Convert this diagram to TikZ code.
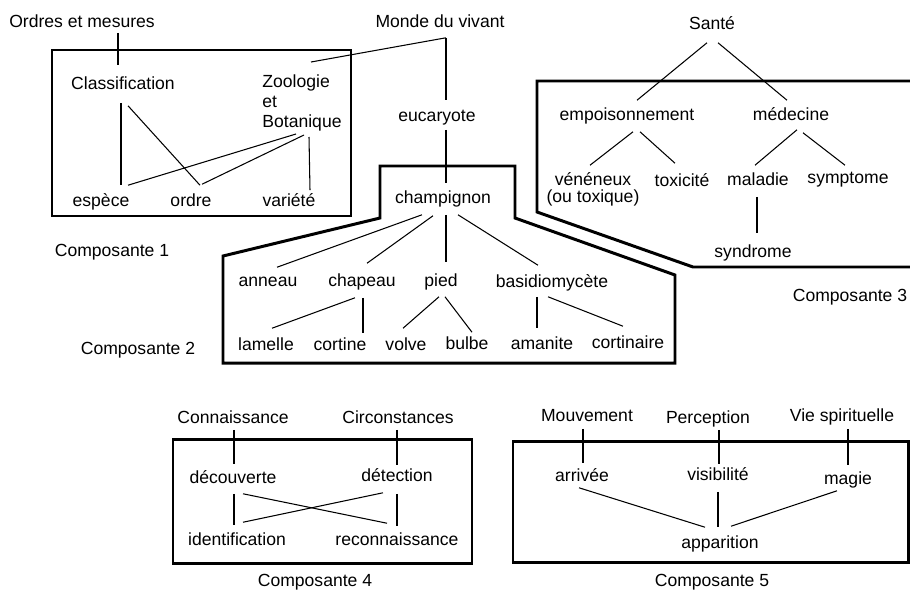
\documentclass[tikz,border=0pt]{standalone}
\usepackage{fontspec}
\setmainfont{Liberation Sans}
\usetikzlibrary{calc}

\tikzset{
  lbl/.style={font=\fontsize{10}{11.5}\selectfont, inner xsep=2pt, inner ysep=2pt, text height=7pt, text depth=2pt},
  multi/.style={inner sep=2pt},
  frame/.style={line width=1.7pt, line join=miter},
  link/.style={line width=0.6pt},
}

\begin{document}
\begin{tikzpicture}[x=0.02cm, y=-0.02cm]
    \useasboundingbox (0,0) rectangle (910,589);

    % top words
    \node(ordres) [lbl] at (82,23) {Ordres et mesures};
    \node(monde) [lbl] at (440,23) {Monde du vivant};
    \node(sante) [lbl] at (712,25) {Santé};

    % composante 1
    \draw[frame] (52,50) rectangle (351,216);
    \node(clas) [lbl] at (123,85) {Classification};
    \node(zoo) [multi, align=left, font=\fontsize{10}{11.35}\selectfont] at (302,103) {Zoologie\\et\\Botanique};
    \node(esp) [lbl] at (101,202) {espèce};
    \node(ordre) [lbl] at (191,202) {ordre};
    \node(vari) [lbl] at (289,202) {variété};
    \node(comp1) [lbl] at (112,252) {Composante 1};

    \draw[link] ($(ordres.south)+(36,-2)$) -- ($(clas.north)+(-5,-8)$);
    \draw[link] ($(clas.south)+(-2,6)$) -- ($(esp.north)+(20,-5)$);
    \draw[link] ($(clas.south)+(5,9)$) -- ($(ordre.north)+(9,-5)$);
    \draw[link] ($(zoo.south)+(-6,-1)$) -- ($(esp.north)+(27,-5)$);
    \draw[link] ($(zoo.south)+(2,0)$) -- ($(ordre.north)+(11,-6)$);
    \draw[link] ($(zoo.south)+(7,2)$) -- ($(vari.north)+(21,0)$);
    \draw[link] ($(monde.south)+(6,3)$) -- ($(zoo.north)+(9,-9)$);

    % composante 2
    \draw[frame] (223,256) -- (380,218) -- (380,166) -- (515,166) -- (515,218)
        -- (675,275) -- (675,363) -- (223,363) -- cycle;
    \node(euca) [lbl] at (437,117) {eucaryote};
    \node(cham) [lbl] at (443,199) {champignon};
    \node(ann) [lbl] at (268,282) {anneau};
    \node(chap) [lbl] at (362,282) {chapeau};
    \node(pied) [lbl] at (441,282) {pied};
    \node(basi) [lbl] at (552,283) {basidiomycète};
    \node(lam) [lbl] at (266,346) {lamelle};
    \node(cort) [lbl] at (340,346) {cortine};
    \node(volv) [lbl] at (406,346) {volve};
    \node(bulb) [lbl] at (467,345) {bulbe};
    \node(aman) [lbl] at (542,345) {amanite};
    \node(corti) [lbl] at (628,344) {cortinaire};
    \node(comp2) [lbl] at (138,350) {Composante 2};

    \draw[link] ($(monde.south)+(6,3)$) -- ($(euca.north)+(9,-5)$);
    \draw[link] ($(euca.south)+(9,1)$) -- ($(cham.north)+(3,-4)$);
    \draw[link] ($(cham.south)+(-21,4)$) -- ($(ann.north)+(9,-3)$);
    \draw[link] ($(cham.south)+(-10,5)$) -- ($(chap.north)+(5,-7)$);
    \draw[link] ($(cham.south)+(3,4)$) -- ($(pied.north)+(5,-8)$);
    \draw[link] ($(cham.south)+(15,4)$) -- ($(basi.north)+(-14,-6)$);
    \draw[link] ($(chap.south)+(-7,4)$) -- ($(lam.north)+(6,-6)$);
    \draw[link] ($(chap.south)+(1,4)$) -- ($(cort.north)+(23,-1)$);
    \draw[link] ($(pied.south)+(-2,3)$) -- ($(volv.north)+(-3,-6)$);
    \draw[link] ($(pied.south)+(4,3)$) -- ($(bulb.north)+(5,-1)$);
    \draw[link] ($(basi.south)+(-15,2)$) -- ($(aman.north)+(-5,-5)$);
    \draw[link] ($(basi.south)+(-4,2)$) -- ($(corti.north)+(-5,-6)$);

    % composante 3
    \draw[frame] (910,81) -- (537,81) -- (537,212) -- (693,267) -- (910,267);
    \node(emp) [lbl] at (627,116) {empoisonnement};
    \node(med) [lbl] at (791,116) {médecine};
    \node(ven) [multi, align=center, font=\fontsize{10}{9.8}\selectfont] at (593,189) {vénéneux\\(ou toxique)};
    \node(tox) [lbl] at (682,182) {toxicité};
    \node(mal) [lbl] at (758,181) {maladie};
    \node(sym) [lbl] at (848,179) {symptome};
    \node(syn) [lbl] at (753,253) {syndrome};
    \node(comp3) [lbl] at (850,297) {Composante 3};

    \draw[link] ($(sante.south)+(-5,6)$) -- ($(emp.north)+(10,-4)$);
    \draw[link] ($(sante.south)+(6,6)$) -- ($(med.north)+(-4,-4)$);
    \draw[link] ($(emp.south)+(6,4)$) -- ($(ven.north)+(-3,-3)$);
    \draw[link] ($(emp.south)+(13,4)$) -- ($(tox.north)+(-7,-7)$);
    \draw[link] ($(med.south)+(6,2)$) -- ($(mal.north)+(-3,-4)$);
    \draw[link] ($(med.south)+(12,5)$) -- ($(sym.north)+(-3,-2)$);
    \draw[link] ($(mal.south)+(-1,4)$) -- ($(syn.north)+(4,-8)$);

    % composante 4
    \draw[frame] (173,439) rectangle (472,563);
    \node(conn) [lbl] at (233,419) {Connaissance};
    \node(circ) [lbl] at (398,419) {Circonstances};
    \node(deco) [lbl] at (233,479) {découverte};
    \node(dete) [lbl] at (397,477) {détection};
    \node(iden) [lbl] at (237,541) {identification};
    \node(reco) [lbl] at (397,541) {reconnaissance};
    \node(comp4) [lbl] at (315,582) {Composante 4};

    \draw[link] ($(conn.south)+(1,-1)$) -- ($(deco.north)+(1,-3)$);
    \draw[link] ($(circ.south)+(-1,-1)$) -- ($(dete.north)+(0,0)$);
    \draw[link] ($(deco.south)+(1,3)$) -- ($(iden.north)+(-3,-4)$);
    \draw[link] ($(dete.south)+(0,5)$) -- ($(reco.north)+(0,-3)$);
    \draw[link] ($(deco.south)+(10,3)$) -- ($(reco.north)+(-10,-6)$);
    \draw[link] ($(dete.south)+(-14,4)$) -- ($(iden.north)+(6,-7)$);

    % composante 5
    \draw[frame] (513,441) rectangle (908,562);
    \node(mouv) [lbl] at (587,417) {Mouvement};
    \node(perc) [lbl] at (708,419) {Perception};
    \node(vie) [lbl] at (842,417) {Vie spirituelle};
    \node(arri) [lbl] at (582,477) {arrivée};
    \node(visi) [lbl] at (718,476) {visibilité};
    \node(magi) [lbl] at (848,480) {magie};
    \node(appa) [lbl] at (720,544) {apparition};
    \node(comp5) [lbl] at (712,582) {Composante 5};

    \draw[link] ($(mouv.south)+(-4,0)$) -- ($(arri.north)+(1,-2)$);
    \draw[link] ($(perc.south)+(11,-1)$) -- ($(visi.north)+(1,0)$);
    \draw[link] ($(vie.south)+(6,0)$) -- ($(magi.north)+(0,-3)$);
    \draw[link] ($(arri.south)+(-3,-1)$) -- ($(appa.north)+(-15,-5)$);
    \draw[link] ($(visi.south)+(0,4)$) -- ($(appa.north)+(-2,-5)$);
    \draw[link] ($(magi.south)+(-11,-1)$) -- ($(appa.north)+(11,-6)$);

\end{tikzpicture}
\end{document}
